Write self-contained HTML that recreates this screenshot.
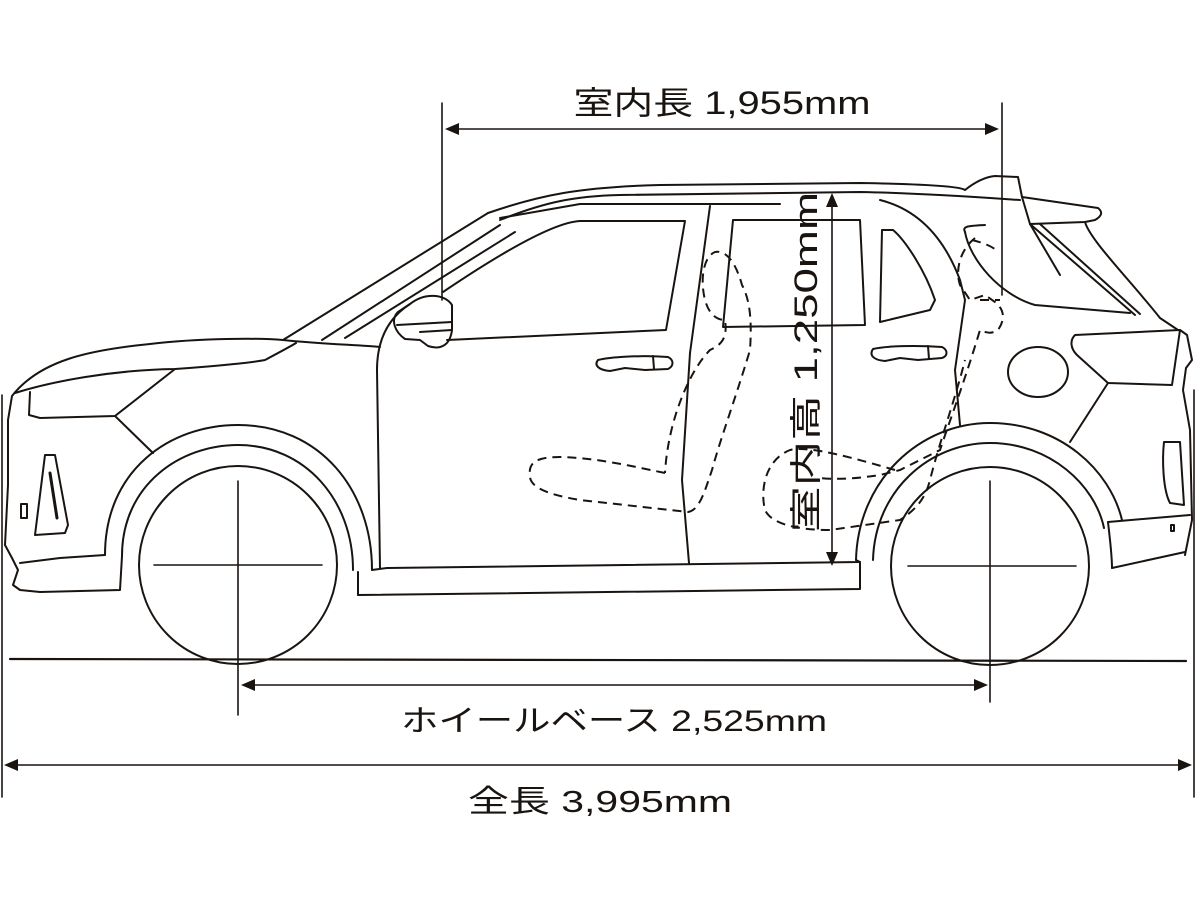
<!DOCTYPE html>
<html><head><meta charset="utf-8">
<style>
html,body{margin:0;padding:0;background:#fff;}
svg{display:block;}
text{font-family:"Liberation Sans","Noto Sans CJK JP",sans-serif;fill:#1a1410;}
</style></head>
<body>
<svg width="1200" height="900" viewBox="0 0 1200 900" xmlns="http://www.w3.org/2000/svg">
<g fill="#1a1410">
<polygon points="445,129 459,123 459,135"/>
<polygon points="999,129 985,123 985,135"/>
<polygon points="832,193 826,207 838,207"/>
<polygon points="832,566 826,552 838,552"/>
<polygon points="241,685 255,679 255,691"/>
<polygon points="988,685 974,679 974,691"/>
<polygon points="4,765 18,759 18,771"/>
<polygon points="1192,765 1178,759 1178,771"/>
</g>
<g fill="none" stroke="#1a1410" stroke-width="2" stroke-linejoin="round" stroke-linecap="round">
<g stroke-width="1.6">
<line x1="442" y1="103" x2="442" y2="300"/>
<line x1="1002" y1="103" x2="1002" y2="295"/>
<line x1="452" y1="129" x2="992" y2="129"/>
<line x1="832" y1="200" x2="832" y2="560"/>
<line x1="238" y1="481" x2="238" y2="715"/>
<line x1="990" y1="481" x2="990" y2="702"/>
<line x1="248" y1="685" x2="981" y2="685"/>
<line x1="2" y1="395" x2="2" y2="797"/>
<line x1="1194" y1="390" x2="1194" y2="797"/>
<line x1="10" y1="765" x2="1186" y2="765"/>
<line x1="154" y1="565" x2="322" y2="565"/>
<line x1="908" y1="566" x2="1076" y2="566"/>
</g>
<line x1="10" y1="659" x2="1186" y2="661" stroke-width="2.2"/>

<circle cx="238" cy="565" r="99"/>
<circle cx="990" cy="566" r="99"/>
<path d="M105,555 C105,470 170,425 238,425 C320,425 372,490 372,570"/>
<path d="M122,556 C122,485 180,445 238,445 C305,445 353,500 353,570"/>
<path d="M856,560 C858,480 920,423 990,423 C1060,423 1110,470 1122,520"/>
<path d="M873,560 C875,490 930,443 990,443 C1050,443 1095,485 1104,528"/>

<path d="M283,340 C260,338 200,338 150,344 C90,350 40,360 12,396 L8,420 L8,485 L5,545 L12,558 L18,570 L13,585 L20,590 L40,592 L120,590 L122,556"/>
<path d="M15,393 C50,382 110,370 175,369 C220,366 255,362 265,360 C280,352 293,345 296,343"/>
<path d="M30,392 L29,415 L40,418 L115,416 L175,369"/>
<path d="M115,416 L153,453"/>
<path d="M20,563 L60,558 L105,555"/>
<path d="M35,535 L45,455 L55,455 L68,525 L65,533 Z"/>
<line x1="50" y1="473" x2="57" y2="518" stroke-width="3"/>
<rect x="21" y="504" width="6" height="14"/>

<path d="M283,340 L488,213"/>
<path d="M322,340 L500,225"/>
<path d="M345,338 L515,232"/>
<path d="M283,340 C320,344 360,345 380,347"/>
<path d="M410,304 C385,320 377,345 377,370 L380,568"/>

<path d="M488,213 C540,195 580,187 660,185 L860,183 C920,184 960,186 965,190"/>
<path d="M500,220 C545,202 575,196 620,195 L860,192 C920,193 990,198 1020,200"/>
<path d="M500,218 L580,204 L780,204"/>
<path d="M965,190 C975,182 985,177 995,176 L1018,177 L1022,197 L1098,208 C1103,212 1102,216 1095,220 L1085,222 L1030,224"/>
<path d="M1022,197 L1030,224 L1060,275"/>
<path d="M1030,224 L1135,315"/>
<path d="M1040,224 L1140,314"/>
<path d="M1085,222 C1090,240 1130,280 1160,318 L1178,330"/>

<path d="M447,340 L666,330 L685,221 L580,221 C560,222 520,240 443,292"/>
<path d="M733,220 L860,220 L865,325 L723,327 Z"/>
<path d="M880,322 L882,230 L893,230 C905,240 925,270 935,300 L930,310 Z"/>
<path d="M710,206 L690,353 L682,480 L689,563"/>
<path d="M880,200 C920,210 945,240 960,280 L965,300 L955,370 L960,425"/>
<path d="M965,232 C970,260 1000,295 1035,305 L1130,313"/>
<path d="M965,232 C962,226 968,226 985,225"/>

<path d="M372,570 L387,568 L860,562 L856,560"/>
<path d="M358,595 L860,589 L860,562"/>
<path d="M358,572 L358,595"/>

<path d="M410,304 C425,292 445,294 452,305 L452,330 C450,346 440,350 428,346 L420,340 L405,339 C395,332 390,320 398,312 Z"/>
<path d="M397,325 L452,322"/>
<path d="M420,332 L452,330"/>

<path d="M598,360 C610,357 640,355 668,357 C674,360 674,366 668,369 L645,370 L625,368 L610,371 C598,370 594,365 598,360 Z"/>
<line x1="653" y1="356" x2="654" y2="369"/>
<path d="M873,349 C885,346 915,345 942,347 C948,350 948,356 942,358 L918,360 L900,358 L885,361 C873,360 869,355 873,349 Z"/>
<line x1="928" y1="346" x2="929" y2="359"/>

<path d="M1075,335 L1180,330 L1172,385 L1108,383 L1077,355 C1070,348 1070,340 1075,335 Z"/>
<path d="M1180,330 L1187,335 L1192,360 L1186,368 L1183,390 L1190,430 L1192,520 L1185,555"/>
<path d="M1108,383 L1070,442"/>
<ellipse cx="1038" cy="372" rx="30" ry="25"/>
<path d="M1164,442 L1180,442 L1184,505 L1170,503 C1163,490 1162,460 1164,442 Z"/>
<path d="M1108,522 L1190,515"/>
<path d="M1112,568 L1185,552"/>
<path d="M1108,522 C1110,540 1112,555 1112,568"/>
<rect x="1171" y="525" width="3" height="6"/>
</g>

<g fill="none" stroke="#1a1410" stroke-width="2" stroke-dasharray="9,6">
<path d="M665,473 C640,468 600,458 560,457 C535,457 528,463 530,477 C531,488 550,495 580,500 L688,512 C700,510 705,490 712,470 C720,440 735,400 750,350 C752,320 750,300 742,285 C735,260 725,250 715,252 C703,257 700,280 705,300 C710,318 720,320 725,320 C728,340 720,345 710,350 C690,370 668,420 665,473"/>
<path d="M975,238 C960,250 955,270 960,285 L970,300 L985,295 L995,302 C1005,310 1005,320 998,330 C990,335 985,332 980,330 C965,380 950,420 940,450 L900,470 L880,475 C860,478 840,480 820,478"/>
<path d="M895,470 C860,460 810,445 790,450 C765,460 760,490 765,510 C772,525 800,530 830,530 L900,520 C915,510 925,500 930,480 C940,440 955,400 965,360"/>
<path d="M972,240 C980,242 990,245 996,250"/>
<path d="M980,300 L1000,300"/>
</g>

<text x="722" y="114" font-size="32" text-anchor="middle" textLength="297" lengthAdjust="spacingAndGlyphs">室内長 1,955mm</text>
<text x="614" y="731" font-size="30" text-anchor="middle" textLength="426" lengthAdjust="spacingAndGlyphs">ホイールベース 2,525mm</text>
<text x="600" y="812" font-size="31" text-anchor="middle" textLength="264" lengthAdjust="spacingAndGlyphs">全長 3,995mm</text>
<text transform="translate(817,362) rotate(-90)" font-size="32" text-anchor="middle" textLength="340" lengthAdjust="spacingAndGlyphs">室内高 1,250mm</text>
</svg>
</body></html>
